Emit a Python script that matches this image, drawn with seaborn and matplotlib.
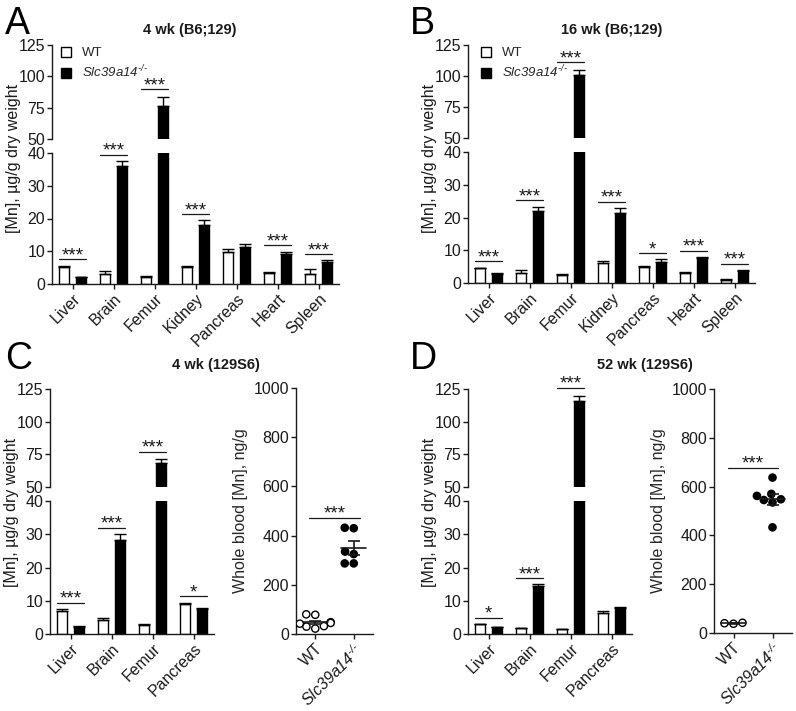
"""Mn en tejidos y sangre de ratones WT vs Slc39a14-/- (paneles A-D)."""
import matplotlib

matplotlib.use("Agg")
import matplotlib.pyplot as plt
import pandas as pd
import seaborn as sns
from matplotlib.patches import Patch

sns.set_theme(style="ticks")
plt.rcParams["font.family"] = ["Liberation Sans", "DejaVu Sans"]
plt.rcParams["mathtext.fontset"] = "custom"
plt.rcParams["mathtext.rm"] = "Liberation Sans:italic"
plt.rcParams["mathtext.it"] = "Liberation Sans:italic"

# la parte en superindice va en mathtext; el resto se pone en cursiva aparte
KO_LABEL = r"Slc39a14$^{\text{-/-}}$"
GENOTYPES = ["WT", "KO"]

ORGANS_B6 = ["Liver", "Brain", "Femur", "Kidney", "Pancreas", "Heart", "Spleen"]
ORGANS_129 = ["Liver", "Brain", "Femur", "Pancreas"]

A_WT = [5.3, 3.2, 2.2, 5.2, 9.7, 3.5, 3.0]
A_WT_SEM = [0.3, 0.7, 0.2, 0.2, 1.0, 0.2, 1.5]
A_KO = [2.0, 36.0, 76.5, 18.1, 11.2, 9.1, 6.8]
A_KO_SEM = [0.1, 1.5, 7.0, 1.3, 1.1, 0.8, 0.4]
A_SIG = ["***", "***", "***", "***", "", "***", "***"]

B_WT = [4.5, 3.2, 2.5, 6.2, 5.0, 3.2, 1.0]
B_WT_SEM = [0.2, 0.7, 0.3, 0.6, 0.1, 0.2, 0.2]
B_KO = [2.9, 22.1, 101.0, 21.3, 6.5, 7.5, 3.8]
B_KO_SEM = [0.2, 1.2, 4.0, 1.5, 0.7, 0.4, 0.2]
B_SIG = ["***", "***", "***", "***", "*", "***", "***"]

C_WT = [6.8, 4.2, 2.6, 9.0]
C_WT_SEM = [0.6, 0.7, 0.3, 0.4]
C_KO = [2.2, 28.3, 68.6, 7.5]
C_KO_SEM = [0.1, 1.7, 2.5, 0.2]
C_SIG = ["***", "***", "***", "*"]

D_WT = [2.9, 1.7, 1.4, 6.2]
D_WT_SEM = [0.1, 0.1, 0.1, 0.7]
D_KO = [2.0, 14.3, 115.5, 7.8]
D_KO_SEM = [0.2, 0.6, 4.3, 0.4]
D_SIG = ["*", "***", "***", ""]

C_BLOOD_WT = [80, 78, 48, 45, 42, 32, 30, 22]
C_BLOOD_KO = [432, 430, 335, 325, 287, 287]
D_BLOOD_WT = [38, 42, 40]
D_BLOOD_KO = [637, 570, 562, 548, 545, 535, 433]

W, H = 796, 711
INK = "#1a1a1a"
TICK_FS = 11.5


def px_axes(fig, x0, x1, y0, y1):
    """Crea un eje a partir de coordenadas en pixeles (origen arriba a la izquierda)."""
    return fig.add_axes([x0 / W, (H - y1) / H, (x1 - x0) / W, (y1 - y0) / H])


def style_axis(ax):
    for side in ("left", "bottom"):
        ax.spines[side].set_color(INK)
        ax.spines[side].set_linewidth(1.0)
    ax.tick_params(colors=INK, labelsize=TICK_FS, length=3.5, width=1.0, pad=1.5)


def sig_mark(ax, x, y, text, half=0.32, fs=13.5):
    ax.plot([x - half, x + half], [y, y], color=INK, lw=0.9, clip_on=False)
    ax.annotate(text, xy=(x, y), xytext=(0, -3.5), textcoords="offset points",
                ha="center", va="bottom", fontsize=fs, color=INK, annotation_clip=False)


def tissue_panel(fig, xs, ys, organs, wt, wt_sem, ko, ko_sem, sig):
    """Barras WT/KO con eje Y partido (0-40 abajo, 50-125 arriba)."""
    df = pd.DataFrame({
        "organ": organs * 2,
        "genotype": ["WT"] * len(organs) + ["KO"] * len(organs),
        "mn": list(wt) + list(ko),
    })
    sems = {"WT": wt_sem, "KO": ko_sem}
    top = px_axes(fig, xs[0], xs[1], ys[0], ys[1])
    low = px_axes(fig, xs[0], xs[1], ys[2], ys[3])
    for ax, lim in ((top, (50, 125)), (low, (0, 40))):
        sns.barplot(data=df, x="organ", y="mn", hue="genotype", order=organs,
                    hue_order=GENOTYPES, palette={"WT": "white", "KO": "black"},
                    edgecolor="black", linewidth=1.0, width=0.8, gap=0.375,
                    errorbar=None, legend=False, ax=ax)
        for cont, g in zip(ax.containers, GENOTYPES):
            xc = [b.get_x() + b.get_width() / 2 for b in cont]
            yv = [b.get_height() for b in cont]
            ax.errorbar(xc, yv, yerr=[[0] * len(yv), sems[g]], fmt="none",
                        ecolor="black", elinewidth=1.0, capsize=4, capthick=1.0)
        ax.set_ylim(*lim)
        ax.set_xlim(-0.5, len(organs) - 0.5)
        ax.set_xlabel("")
        ax.set_ylabel("")
        style_axis(ax)
    sns.despine(ax=top, bottom=True)
    sns.despine(ax=low)
    top.set_xticks([])
    top.set_yticks([50, 75, 100, 125])
    low.set_yticks([0, 10, 20, 30, 40])
    low.set_xticks(range(len(organs)))
    low.set_xticklabels(organs, rotation=45, ha="right", rotation_mode="anchor")
    for i, s in enumerate(sig):
        if not s:
            continue
        peak = max(wt[i] + wt_sem[i], ko[i] + ko_sem[i])
        if peak > 40:
            sig_mark(top, i, peak + 6, s)
        else:
            sig_mark(low, i, peak + 1.9, s)
    return top, low


def blood_panel(fig, xs, ys, wt, ko):
    """Puntos individuales de Mn en sangre completa con media +/- SEM."""
    df = pd.DataFrame({"group": ["WT"] * len(wt) + ["KO"] * len(ko), "mn": wt + ko})
    ax = px_axes(fig, xs[0], xs[1], ys[0], ys[1])
    sns.swarmplot(data=df, x="group", y="mn", hue="group", order=GENOTYPES,
                  palette={"WT": "white", "KO": "black"}, edgecolor="black",
                  linewidth=1.0, size=5.2, legend=False, ax=ax)
    stats = df.groupby("group")["mn"].agg(["mean", "sem"])
    for i, g in enumerate(GENOTYPES):
        m, e = stats.loc[g, "mean"], stats.loc[g, "sem"]
        ax.plot([i - 0.33, i + 0.33], [m, m], color=INK, lw=1.2, zorder=10)
        ax.errorbar([i], [m], yerr=[e], fmt="none", ecolor=INK, elinewidth=1.2,
                    capsize=4.3, capthick=1.2, zorder=10)
    ax.set_ylim(0, 1000)
    ax.set_xlim(-0.5, 1.5)
    ax.set_yticks(range(0, 1001, 200))
    ax.set_xticks([0, 1])
    ax.set_xticklabels(["WT", KO_LABEL], rotation=45, ha="right", rotation_mode="anchor")
    ax.get_xticklabels()[1].set_fontstyle("italic")
    ax.set_xlabel("")
    ax.set_ylabel("Whole blood [Mn], ng/g", fontsize=TICK_FS, labelpad=4)
    style_axis(ax)
    sns.despine(ax=ax)
    sig_mark(ax, 0.5, max(ko) + 40, "***", half=0.65)
    return ax


fig = plt.figure(figsize=(W / 100, H / 100), dpi=100)

tissue_panel(fig, (52, 339), (45, 139, 153, 284), ORGANS_B6,
             A_WT, A_WT_SEM, A_KO, A_KO_SEM, A_SIG)
tissue_panel(fig, (468, 755), (45, 138, 152, 283), ORGANS_B6,
             B_WT, B_WT_SEM, B_KO, B_KO_SEM, B_SIG)
tissue_panel(fig, (50, 214), (389, 487, 501, 634), ORGANS_129,
             C_WT, C_WT_SEM, C_KO, C_KO_SEM, C_SIG)
tissue_panel(fig, (468, 632), (389, 487, 501, 634), ORGANS_129,
             D_WT, D_WT_SEM, D_KO, D_KO_SEM, D_SIG)
blood_panel(fig, (296, 373), (388, 634), C_BLOOD_WT, C_BLOOD_KO)
blood_panel(fig, (714, 792), (389, 633), D_BLOOD_WT, D_BLOOD_KO)

ylab = "[Mn], \u00b5g/g dry weight"
for x, yc in ((14, 158), (430, 158), (12, 512), (430, 512)):
    fig.text(x / W, 1 - yc / H, ylab, rotation=90, ha="center", va="center",
             fontsize=TICK_FS, color=INK)

titles = [("4 wk (B6;129)", 190, 30), ("16 wk (B6;129)", 612, 30),
          ("4 wk (129S6)", 216, 365), ("52 wk (129S6)", 645, 365)]
for text, x, y in titles:
    fig.text(x / W, 1 - y / H, text, ha="center", va="center", fontsize=10.5,
             fontweight="bold", color=INK)

for letter, x, y in (("A", 5, 34), ("B", 410, 34), ("C", 5, 369), ("D", 410, 369)):
    fig.text(x / W, 1 - y / H, letter, ha="left", va="baseline", fontsize=27, color="black")

handles = [Patch(facecolor="white", edgecolor="black", linewidth=1.0, label="WT"),
           Patch(facecolor="black", edgecolor="black", linewidth=1.0, label=KO_LABEL)]
for x in (58, 478):
    leg = fig.legend(handles=handles, loc="upper left", bbox_to_anchor=(x / W, 1 - 44 / H),
                     frameon=False, fontsize=9.5, handlelength=0.8, handleheight=0.8,
                     handletextpad=0.8, labelspacing=0.35, borderpad=0.2, borderaxespad=0)
    leg.get_texts()[1].set_fontstyle("italic")

fig.savefig("out.png", dpi=100)
